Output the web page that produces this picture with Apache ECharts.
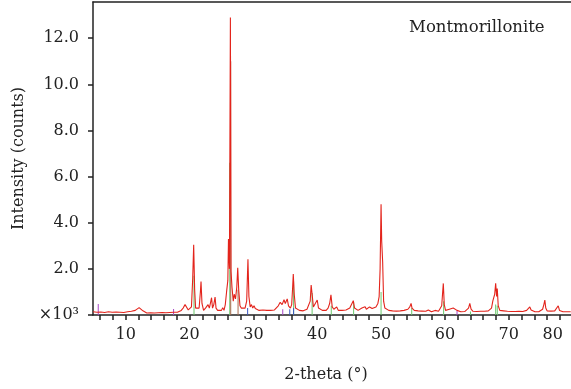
<!DOCTYPE html>
<html>
<head>
<meta charset="utf-8">
<script src="https://cdn.jsdelivr.net/npm/echarts@6/dist/echarts.min.js"></script>
<style>
  html, body { margin: 0; padding: 0; background: #fff; }
  #chart { width: 571px; height: 389px; }
</style>
</head>
<body>
<div id="chart"></div>
<script>
// 2-theta (deg), intensity (x10^3 counts)
var pattern = [
  [4.9,0.14],[5.2,0.18],[5.5,0.12],[5.8,0.2],[6.1,0.13],[6.4,0.17],[6.7,0.11],[7.0,0.19],[7.3,0.14],[7.6,0.2],
  [7.9,0.12],[8.2,0.16],[8.5,0.13],[8.8,0.18],[9.1,0.12],[9.4,0.15],[9.7,0.11],[10.0,0.17],[10.3,0.14],[10.6,0.2],
  [10.9,0.16],[11.2,0.22],[11.5,0.2],[11.8,0.27],[12.1,0.32],[12.4,0.24],[12.7,0.18],[13.0,0.13],[13.3,0.09],[13.6,0.14],
  [13.9,0.1],[14.2,0.13],[14.5,0.09],[14.8,0.12],[15.1,0.1],[15.4,0.14],[15.7,0.11],[16.0,0.15],[16.3,0.1],[16.6,0.13],
  [16.9,0.11],[17.2,0.15],[17.5,0.12],[17.8,0.14],[18.1,0.12],[18.4,0.15],[18.7,0.2],[19.0,0.3],[19.3,0.45],[19.5,0.38],
  [19.8,0.22],[20.1,0.2],[20.3,0.35],[20.5,1.6],[20.65,3.05],[20.8,1.1],[20.95,0.3],[21.2,0.22],[21.5,0.3],[21.7,1.0],
  [21.8,1.45],[21.95,0.5],[22.2,0.2],[22.5,0.3],[22.7,0.25],[22.9,0.45],[23.1,0.3],[23.3,0.55],[23.45,0.75],[23.6,0.3],
  [23.8,0.45],[24.0,0.78],[24.15,0.3],[24.4,0.2],[24.7,0.25],[25.0,0.2],[25.2,0.32],[25.4,0.2],[25.6,0.45],[25.8,1.0],
  [26.0,1.5],[26.1,3.3],[26.25,2.0],[26.4,12.9],[26.5,1.9],[26.65,1.2],[26.85,0.6],[27.0,0.9],[27.2,0.7],[27.4,1.2],
  [27.55,2.05],[27.7,1.1],[27.9,0.4],[28.1,0.3],[28.4,0.25],[28.7,0.3],[28.95,0.6],[29.15,2.42],[29.3,0.8],[29.5,0.35],
  [29.7,0.45],[29.9,0.3],[30.1,0.4],[30.3,0.28],[30.6,0.3],[30.9,0.2],[31.2,0.18],[31.5,0.22],[31.8,0.16],[32.1,0.2],
  [32.4,0.15],[32.7,0.2],[33.0,0.18],[33.3,0.22],[33.6,0.3],[33.9,0.4],[34.2,0.55],[34.5,0.45],[34.8,0.66],[35.0,0.5],
  [35.3,0.7],[35.5,0.4],[35.8,0.3],[36.0,0.45],[36.15,1.2],[36.25,1.78],[36.4,0.9],[36.6,0.3],[36.9,0.25],[37.2,0.2],
  [37.5,0.22],[37.8,0.18],[38.1,0.2],[38.4,0.25],[38.7,0.3],[38.9,0.6],[39.05,1.3],[39.2,0.9],[39.4,0.35],[39.7,0.3],
  [40.0,0.65],[40.2,0.3],[40.5,0.22],[40.8,0.2],[41.1,0.25],[41.4,0.2],[41.7,0.3],[41.95,0.5],[42.15,0.87],[42.35,0.35],
  [42.6,0.25],[42.9,0.3],[43.05,0.35],[43.3,0.2],[43.6,0.18],[43.9,0.2],[44.2,0.16],[44.5,0.22],[44.8,0.25],[45.1,0.3],
  [45.4,0.35],[45.65,0.62],[45.85,0.3],[46.1,0.22],[46.4,0.2],[46.7,0.25],[47.0,0.3],[47.3,0.3],[47.5,0.36],[47.7,0.25],
  [48.0,0.3],[48.2,0.35],[48.4,0.43],[48.6,0.28],[48.9,0.3],[49.2,0.35],[49.5,0.5],[49.7,0.8],[49.85,2.0],[50.0,4.8],
  [50.1,3.2],[50.25,2.3],[50.4,0.6],[50.6,0.3],[50.9,0.25],[51.2,0.2],[51.5,0.16],[51.8,0.18],[52.1,0.14],[52.4,0.17],
  [52.7,0.15],[53.0,0.18],[53.3,0.16],[53.6,0.2],[53.9,0.18],[54.2,0.25],[54.5,0.35],[54.7,0.5],[54.85,0.3],[55.0,0.35],
  [55.2,0.2],[55.5,0.16],[55.8,0.18],[56.1,0.15],[56.4,0.17],[56.7,0.14],[57.0,0.16],[57.2,0.18],[57.4,0.22],[57.6,0.15],
  [57.9,0.14],[58.2,0.16],[58.45,0.2],[58.7,0.14],[59.0,0.16],[59.3,0.2],[59.5,0.4],[59.65,1.0],[59.75,1.37],[59.9,0.45],
  [60.1,0.2],[60.4,0.22],[60.7,0.25],[61.0,0.26],[61.3,0.3],[61.6,0.27],[61.9,0.2],[62.2,0.15],[62.5,0.14],[62.8,0.16],
  [63.1,0.15],[63.4,0.18],[63.7,0.3],[63.9,0.5],[64.1,0.25],[64.4,0.16],[64.7,0.14],[65.0,0.15],[65.3,0.13],[65.6,0.16],
  [65.9,0.14],[66.2,0.16],[66.5,0.15],[66.8,0.18],[67.05,0.22],[67.3,0.3],[67.5,0.6],[67.65,0.75],[67.8,0.9],[67.95,1.37],
  [68.1,0.8],[68.2,1.15],[68.35,0.4],[68.6,0.2],[68.9,0.22],[69.2,0.18],[69.5,0.15],[69.8,0.16],[70.1,0.14],[70.4,0.15],
  [70.7,0.13],[71.0,0.15],[71.3,0.14],[71.6,0.16],[71.9,0.14],[72.2,0.15],[72.5,0.17],[72.8,0.2],[73.1,0.25],[73.3,0.35],
  [73.5,0.22],[73.8,0.15],[74.1,0.14],[74.4,0.16],[74.7,0.14],[75.0,0.18],[75.3,0.25],[75.5,0.45],[75.65,0.65],[75.8,0.3],
  [76.0,0.18],[76.3,0.15],[76.6,0.17],[76.9,0.2],[77.2,0.18],[77.5,0.25],[77.75,0.4],[77.95,0.2],[78.2,0.15],[78.5,0.14],
  [78.8,0.16],[79.1,0.14],[79.4,0.15],[79.7,0.14]
];

// reference stick lines
var greenSticks = [[20.7,1.7],[26.3,6.6],[36.3,1.45],[39.2,0.95],[42.2,0.4],[45.7,0.55],[50.0,1.0],[54.8,0.3],[59.8,0.6],[64.0,0.15],[67.95,0.45],[68.2,0.4]];
var brownSticks = [[26.45,11.0],[27.6,1.1]];
var blueSticks = [[29.1,0.3],[35.7,0.25],[36.3,0.3]];
var purpleSticks = [[5.7,0.48],[17.5,0.26],[34.6,0.25],[61.9,0.2]];

var xTicks = [6,8,10,12,14,16,18,20,22,24,26,28,30,32,34,36,38,40,42,44,46,48,50,52,54,56,58,60,62,64,66,68,70,72,74,76,78];
var xLabelPos = [10,20,30,40,50,60,70,76.9];
var xLabelText = ['10','20','30','40','50','60','70','80'];
var yTicks = [0,2,4,6,8,10,12];

var font = '"DejaVu Serif", "Liberation Serif", serif';
var myChart = echarts.init(document.getElementById('chart'));

function sticks(name, data, color) {
  return {
    name: name,
    type: 'bar',
    data: data,
    barWidth: 1,
    barGap: '-100%',
    itemStyle: { color: color },
    silent: true,
    z: 1
  };
}

var option = {
  animation: false,
  backgroundColor: '#fff',
  textStyle: { fontFamily: font },
  title: {
    text: 'Montmorillonite',
    left: 404,
    top: 14,
    textStyle: { fontFamily: font, fontSize: 16.5, fontWeight: 'normal', color: '#222' }
  },
  grid: { left: 93, right: 0, top: 2, bottom: 74 },
  xAxis: [{
    type: 'value',
    min: 4.88,
    max: 79.75,
    name: '2-theta (°)',
    nameLocation: 'middle',
    nameGap: 52,
    nameTextStyle: { fontFamily: font, fontSize: 16, color: '#222', padding: [0, 12, 0, 0] },
    axisLine: { lineStyle: { color: '#222', width: 1.5 } },
    axisTick: { show: true, length: 5, customValues: xTicks, lineStyle: { color: '#222', width: 1.5 } },
    axisLabel: {
      customValues: xLabelPos,
      margin: 12,
      fontFamily: font, fontSize: 16, color: '#222',
      formatter: function (v) {
        var i = xLabelPos.indexOf(v);
        return i >= 0 ? xLabelText[i] : '';
      }
    },
    splitLine: { show: false }
  }, {
    type: 'value',
    position: 'top',
    min: 4.88,
    max: 79.75,
    axisLine: { show: true, lineStyle: { color: '#222', width: 1.5 } },
    axisTick: { show: false },
    axisLabel: { show: false },
    splitLine: { show: false }
  }],
  yAxis: {
    type: 'value',
    min: 0,
    max: 13.57,
    name: 'Intensity (counts)',
    nameLocation: 'middle',
    nameGap: 66,
    nameTextStyle: { fontFamily: font, fontSize: 16, color: '#222' },
    axisLine: { show: true, lineStyle: { color: '#222', width: 1.5 } },
    axisTick: { show: true, length: 5, customValues: yTicks, lineStyle: { color: '#222', width: 1.5 } },
    axisLabel: {
      customValues: yTicks,
      margin: 14,
      fontFamily: font, fontSize: 16, color: '#222',
      formatter: function (v) { return v === 0 ? '×10³' : v.toFixed(1); }
    },
    splitLine: { show: false }
  },
  series: [
    sticks('green', greenSticks, '#6cc66c'),
    sticks('brown', brownSticks, '#a86a4e'),
    sticks('blue', blueSticks, '#3a55c0'),
    sticks('purple', purpleSticks, '#a848c8'),
    {
      name: 'Montmorillonite',
      type: 'line',
      data: pattern,
      showSymbol: false,
      lineStyle: { color: '#e3241c', width: 1.1 },
      z: 3
    }
  ]
};

myChart.setOption(option);
</script>
</body>
</html>
